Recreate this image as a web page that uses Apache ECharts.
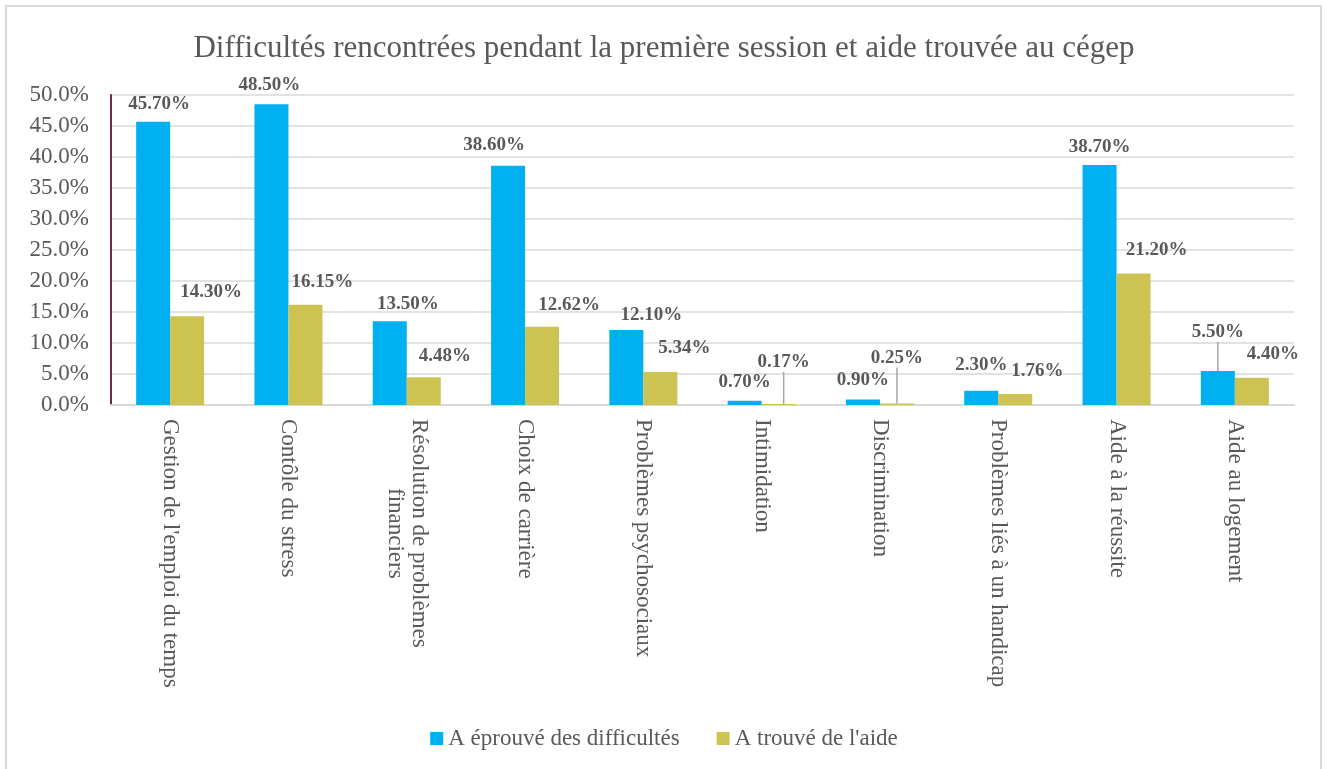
<!DOCTYPE html>
<html>
<head>
<meta charset="utf-8">
<script src="https://cdn.jsdelivr.net/npm/echarts@6/dist/echarts.min.js"></script>
<style>
html,body{margin:0;padding:0;background:#fff;}
#chart{width:1328px;height:769px;}
</style>
</head>
<body>
<div id="chart"></div>
<script>
var categories = [
  "Gestion de l'emploi du temps",
  "Contôle du stress",
  "Résolution de problèmes\nfinanciers",
  "Choix de carrière",
  "Problèmes psychosociaux",
  "Intimidation",
  "Discrimination",
  "Problèmes liés à un handicap",
  "Aide à la réussite",
  "Aide au logement"
];
var seriesNames = ["A éprouvé des difficultés", "A trouvé de l'aide"];
var difficultes = [45.7, 48.5, 13.5, 38.6, 12.1, 0.7, 0.9, 2.3, 38.7, 5.5];
var aide = [14.3, 16.15, 4.48, 12.62, 5.34, 0.17, 0.25, 1.76, 21.2, 4.4];
var yTicks = [0, 5, 10, 15, 20, 25, 30, 35, 40, 45, 50];

// label placement nudges (layout only)
var labelNudge = [
  [[6,-3],[-2,-5],[18,-3],[-14,-6],[25,0],[0,-4],[0,-5],[0,-11],[0,-3],[0,-24]],
  [[24,-10],[17,-8],[21,-7],[27,-7],[24,-9],[5,-27],[0,-31],[22,-8],[23,-9],[21,-9]]
];
var leaderLines = [[9], [5, 6]];

var FONT = "'Liberation Serif', 'DejaVu Serif', serif";
var GREY = '#595959';

function buildData(vals, si) {
  return vals.map(function (v, i) {
    var item = { value: v };
    if (leaderLines[si].indexOf(i) >= 0) {
      item.labelLine = { show: true, lineStyle: { color: '#a6a6a6', width: 1.5 } };
    }
    return item;
  });
}

var labelStyle = {
  show: true,
  position: 'top',
  distance: 5,
  fontFamily: FONT,
  fontSize: 19,
  fontWeight: 'bold',
  color: GREY,
  formatter: function (p) { return p.value.toFixed(2) + '%'; }
};

var chart = echarts.init(document.getElementById('chart'), null, { renderer: 'canvas' });
chart.setOption({
  animation: false,
  backgroundColor: '#fff',
  graphic: [{
    type: 'rect',
    shape: { x: 6, y: 6, width: 1315, height: 790 },
    style: { fill: 'none', stroke: '#d9d9d9', lineWidth: 2 },
    silent: true
  }],
  title: {
    text: 'Difficultés rencontrées pendant la première session et aide trouvée au cégep',
    left: 'center',
    top: 28,
    textStyle: { fontFamily: FONT, fontSize: 31, fontWeight: 'normal', color: GREY }
  },
  legend: {
    data: seriesNames,
    top: 722,
    left: 'center',
    icon: 'rect',
    itemWidth: 13,
    itemHeight: 13,
    itemGap: 37,
    textStyle: { fontFamily: FONT, fontSize: 23, color: GREY }
  },
  grid: { left: 111, right: 34, top: 95, bottom: 364, containLabel: false },
  xAxis: {
    type: 'category',
    data: categories,
    axisLine: { show: true, lineStyle: { color: '#d9d9d9', width: 2 } },
    axisTick: { show: false },
    axisLabel: {
      interval: 0,
      rotate: -90,
      margin: 14,
      formatter: function (v) {
        return v.split('\n').map(function (s) { return '{a|' + s + '}'; }).join('\n');
      },
      rich: { a: { align: 'center', fontFamily: FONT, fontSize: 23, color: GREY, lineHeight: 24 } }
    }
  },
  yAxis: {
    type: 'value',
    min: yTicks[0],
    max: yTicks[yTicks.length - 1],
    interval: yTicks[1] - yTicks[0],
    axisLine: { show: true, lineStyle: { color: '#6b2c4f', width: 2 } },
    axisTick: { show: false },
    splitLine: { lineStyle: { color: '#d9d9d9', width: 1.5 } },
    axisLabel: {
      margin: 22,
      fontFamily: FONT,
      fontSize: 23,
      color: GREY,
      formatter: function (v) { return v.toFixed(1) + '%'; }
    }
  },
  series: [
    {
      name: seriesNames[0],
      type: 'bar',
      data: buildData(difficultes, 0),
      barWidth: 34,
      barGap: '0%',
      itemStyle: { color: '#00b0f0' },
      label: labelStyle,
      labelLine: { show: false },
      labelLayout: function (p) { var o = labelNudge[0][p.dataIndex]; return { dx: o[0], dy: o[1] }; }
    },
    {
      name: seriesNames[1],
      type: 'bar',
      data: buildData(aide, 1),
      barWidth: 34,
      barGap: '0%',
      itemStyle: { color: '#cdc352' },
      label: labelStyle,
      labelLine: { show: false },
      labelLayout: function (p) { var o = labelNudge[1][p.dataIndex]; return { dx: o[0], dy: o[1] }; }
    }
  ]
});
</script>
</body>
</html>
